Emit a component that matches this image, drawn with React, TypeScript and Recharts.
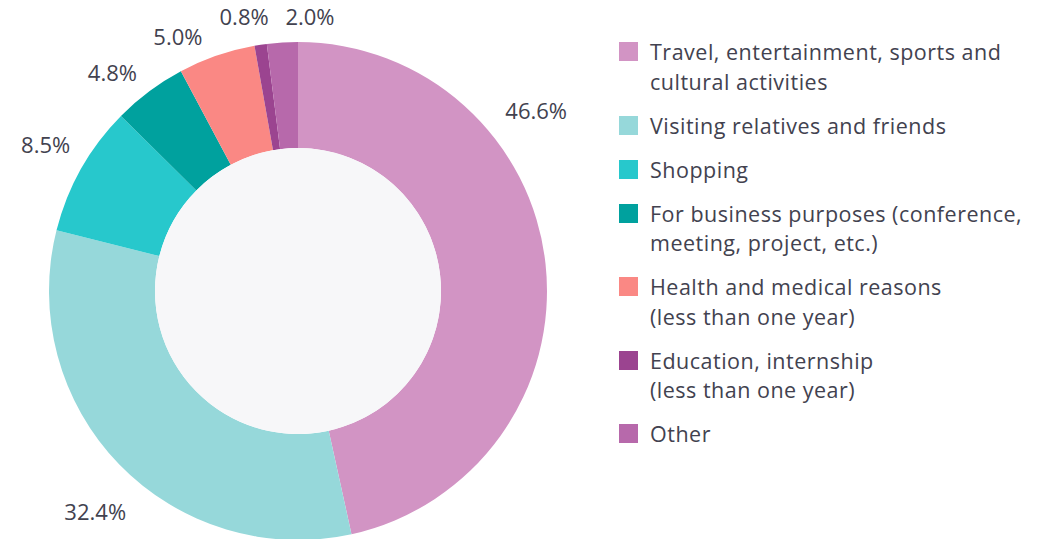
import { Legend, Pie, PieChart, Cell } from 'recharts'

const categories = [
  'Travel, entertainment, sports and cultural activities',
  'Visiting relatives and friends',
  'Shopping',
  'For business purposes (conference, meeting, project, etc.)',
  'Health and medical reasons (less than one year)',
  'Education, internship (less than one year)',
  'Other',
]
const legendLines = [
  ['Travel, entertainment, sports and', 'cultural activities'],
  ['Visiting relatives and friends'],
  ['Shopping'],
  ['For business purposes (conference,', 'meeting, project, etc.)'],
  ['Health and medical reasons', '(less than one year)'],
  ['Education, internship', '(less than one year)'],
  ['Other'],
]
const shares = [46.6, 32.4, 8.5, 4.8, 5.0, 0.8, 2.0]
const colors = ['#d294c4', '#96d8da', '#27c8cc', '#00a19e', '#fa8884', '#9b4490', '#b769ab']

// where each percentage label sits (degrees, px from centre)
const labelAngles = [37.2, 227.3, 149.8, 130.3, 115.2, 101.1, 87.5]
const labelRadii = [299, 299, 292, 287, 282, 280, 275]

const data = categories.map((name, i) => ({ name, value: shares[i] }))
const hole = [{ name: 'hole', value: 1 }]

const FONT = '"Open Sans", sans-serif'
const TEXT = '#42424f'

function renderLabel(props: any) {
  const { cx, cy, index } = props
  const a = (labelAngles[index] * Math.PI) / 180
  const x = cx + labelRadii[index] * Math.cos(a)
  const y = cy - labelRadii[index] * Math.sin(a)
  return (
    <text
      x={x}
      y={y}
      fill={TEXT}
      fontSize={22}
      fontFamily={FONT}
      textAnchor="middle"
      dominantBaseline="central"
    >
      {shares[index].toFixed(1)}%
    </text>
  )
}

function LegendBox() {
  return (
    <div
      style={{
        fontFamily: FONT,
        fontSize: 21.5,
        letterSpacing: 0.5,
        color: TEXT,
        lineHeight: '29.5px',
      }}
    >
      {legendLines.map((lines, i) => (
        <div key={i} style={{ display: 'flex', alignItems: 'flex-start', marginBottom: 14.5 }}>
          <div
            style={{
              width: 19,
              height: 19,
              background: colors[i],
              marginTop: 5,
              marginRight: 12,
              flexShrink: 0,
            }}
          />
          <div>
            {lines.map((l, j) => (
              <div key={j} style={{ whiteSpace: 'nowrap' }}>
                {l}
              </div>
            ))}
          </div>
        </div>
      ))}
    </div>
  )
}

export default function App() {
  return (
    <div style={{ position: 'absolute', left: 0, top: 0, width: 1042, height: 539, background: '#fff' }}>
      <PieChart width={1042} height={539} margin={{ top: 0, right: 0, bottom: 0, left: 0 }}>
        <Pie
          data={data}
          dataKey="value"
          cx={298}
          cy={291}
          innerRadius={143}
          outerRadius={249}
          startAngle={90}
          endAngle={-270}
          stroke="none"
          label={renderLabel}
          labelLine={false}
          isAnimationActive={false}
        >
          {data.map((d, i) => (
            <Cell key={d.name} fill={colors[i]} />
          ))}
        </Pie>
        <Pie
          data={hole}
          dataKey="value"
          cx={298}
          cy={291}
          outerRadius={143}
          fill="#f7f7f9"
          stroke="none"
          isAnimationActive={false}
        />
        <Legend
          content={<LegendBox />}
          layout="vertical"
          wrapperStyle={{ position: 'absolute', left: 619, top: 37, width: 423 }}
        />
      </PieChart>
    </div>
  )
}
